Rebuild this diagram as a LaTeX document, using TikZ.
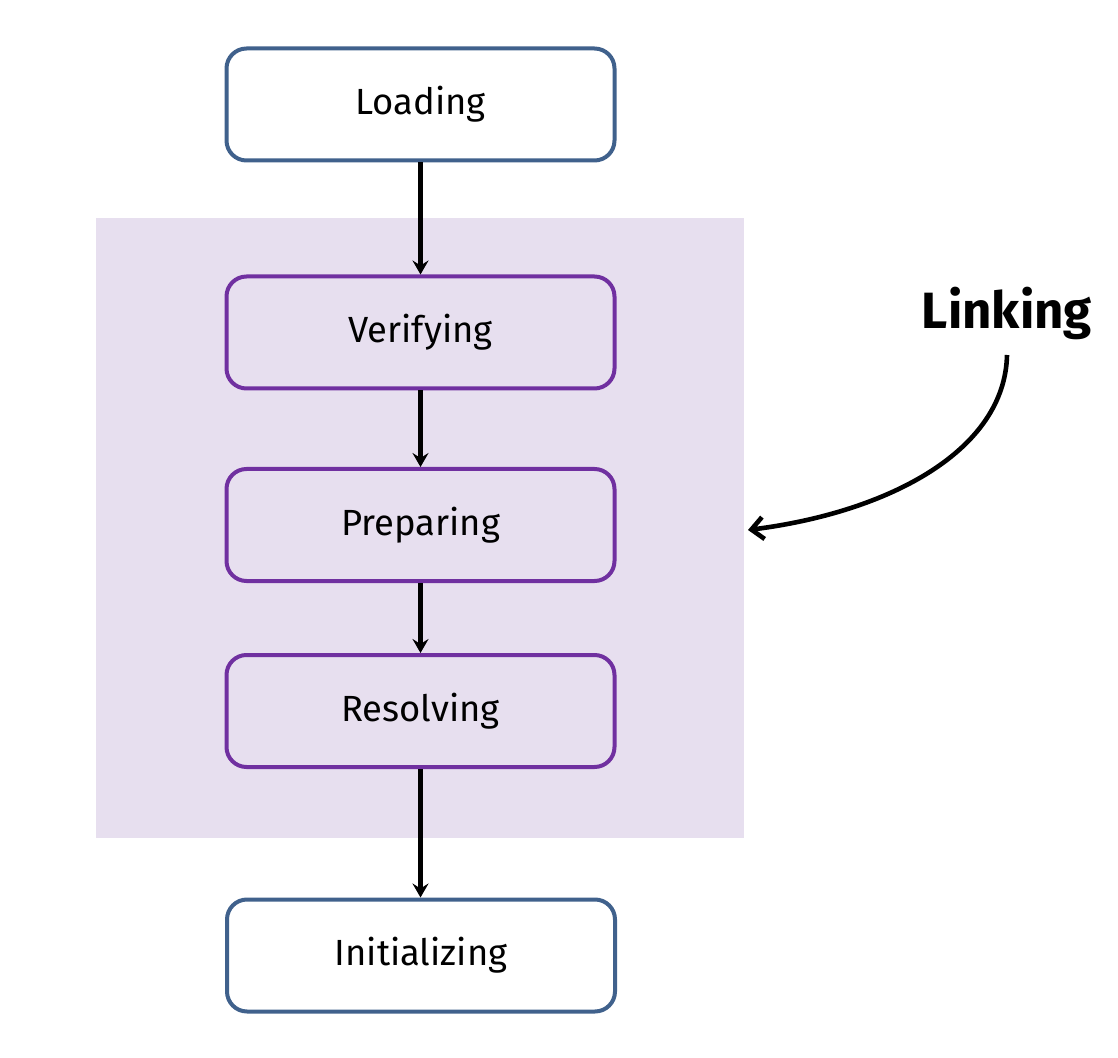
\documentclass[tikz,border=0pt]{standalone}
\usepackage{fontspec}
\setmainfont{Fira Sans}
\usetikzlibrary{arrows.meta}
\definecolor{stageblue}{HTML}{40618C}
\definecolor{linkpurple}{HTML}{7030A0}
\definecolor{linkfill}{HTML}{E7DFEF}
\begin{document}
\begin{tikzpicture}[x=0.5pt,y=-0.5pt,
  stage/.style={draw=stageblue, line width=2pt, rounded corners=10pt, fill=white,
    minimum width=194pt, minimum height=56pt, inner sep=0pt, font=\fontsize{18.2}{20}\selectfont},
  linkstage/.style={stage, draw=linkpurple, fill=none},
  flow/.style={line width=2.3pt, -{Stealth[length=7pt,width=8pt,inset=2.5pt]}},
  pointer/.style={line width=2.3pt, -{Straight Barb[length=6pt,width=11pt]}}]
  \useasboundingbox (0,0) rectangle (1118,1058);
  % linking phase background
  \fill[linkfill] (96,218) rectangle (744,838);
  \node[stage] (load) at (420.5,104.5) {Loading};
  \node[linkstage] (verify) at (420.5,332.5) {Verifying};
  \node[linkstage] (prep) at (420.5,525) {Preparing};
  \node[linkstage] (resolve) at (420.5,711) {Resolving};
  \node[stage] (init) at (421,955.5) {Initializing};
  \draw[flow] (load) -- (verify);
  \draw[flow] (verify) -- (prep);
  \draw[flow] (prep) -- (resolve);
  \draw[flow] (resolve.south) -- (resolve.south |- init.north);
  \node[font=\bfseries\fontsize{25.5}{27}\selectfont] (linking) at (1007,313) {Linking};
  \coordinate (phase) at (748,530);
  \draw[pointer] (1007,355) .. controls (1005,450) and (890,512) .. (phase);
\end{tikzpicture}
\end{document}
